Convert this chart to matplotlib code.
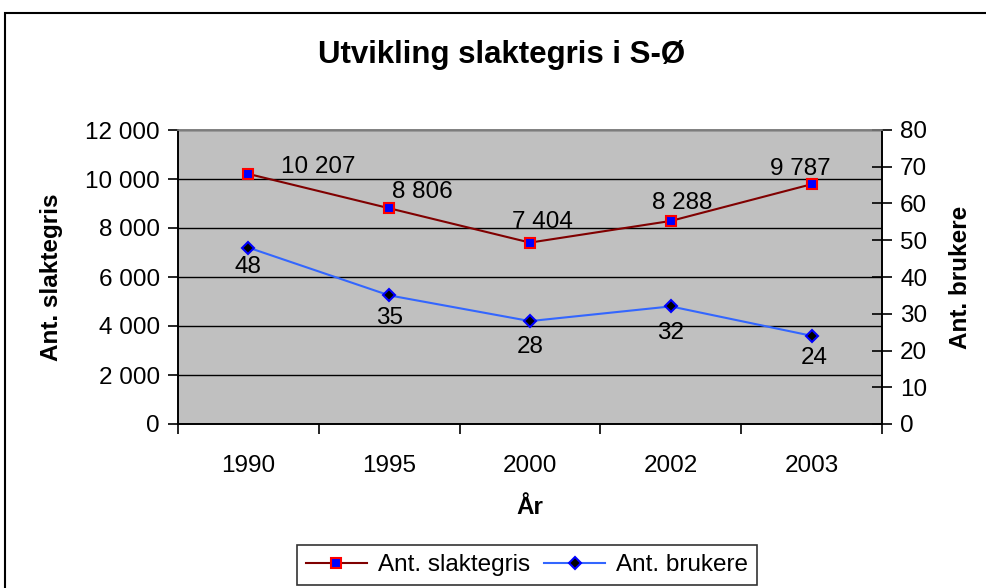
import matplotlib.pyplot as plt
from matplotlib.patches import Rectangle
from matplotlib.ticker import FuncFormatter

plt.rcParams["font.family"] = ["Liberation Sans", "DejaVu Sans"]

years = ["1990", "1995", "2000", "2002", "2003"]
slaktegris = [10207, 8806, 7404, 8288, 9787]
brukere = [48, 35, 28, 32, 24]

# label offsets in points (as placed in the original sheet)
sl_offsets = [(50, 5), (24, 12), (9, 15), (8, 13), (-8, 11)]
br_offsets = [(0, -14), (0, -16), (0, -19), (0, -19), (2, -16)]

FS = 17.5


def space_thousands(v, pos=None):
    return f"{int(round(v)):,}".replace(",", " ")


fig = plt.figure(figsize=(9.87, 5.88), dpi=100)
fig.add_artist(Rectangle((5 / 987, -0.05), 1.1, 1 - 13 / 588 + 0.05,
                         transform=fig.transFigure, fill=False,
                         edgecolor="black", linewidth=1.5))

ax = fig.add_axes([178 / 987, 1 - 424 / 588, 704 / 987, 294 / 588])
ax2 = ax.twinx()
ax.set_facecolor("#C0C0C0")

x = range(len(years))
l1, = ax.plot(x, slaktegris, color="#800000", linewidth=1.5, marker="s",
              markersize=7, markerfacecolor="#0000FF",
              markeredgecolor="#FF0000", markeredgewidth=1.5,
              label="Ant. slaktegris", zorder=4)
l2, = ax2.plot(x, brukere, color="#3366FF", linewidth=1.5, marker="D",
               markersize=6, markerfacecolor="black",
               markeredgecolor="#0000FF", markeredgewidth=1.5,
               label="Ant. brukere", zorder=4)

for i, v in enumerate(slaktegris):
    ax.annotate(space_thousands(v), (i, v), xytext=sl_offsets[i],
                textcoords="offset points", ha="center", va="center",
                fontsize=FS)
for i, v in enumerate(brukere):
    ax2.annotate(str(v), (i, v), xytext=br_offsets[i],
                 textcoords="offset points", ha="center", va="center",
                 fontsize=FS)

ax.set_xlim(-0.5, len(years) - 0.5)
ax.set_ylim(0, 12000)
ax2.set_ylim(0, 80)
ax.set_yticks(range(0, 12001, 2000))
ax2.set_yticks(range(0, 81, 10))
ax.yaxis.set_major_formatter(FuncFormatter(space_thousands))
ax.yaxis.grid(True, color="black", linewidth=1)
ax.set_axisbelow(True)

ax.set_xticks([i - 0.5 for i in range(len(years) + 1)])
ax.set_xticklabels([])
ax.set_xticks(list(x), minor=True)
ax.set_xticklabels(years, minor=True)
ax.tick_params(axis="x", which="minor", length=0, labelsize=FS, pad=22)
ax.tick_params(axis="x", which="major", length=7, width=1.2)
ax.tick_params(axis="y", length=7, width=1.2, labelsize=FS, pad=6)
ax2.tick_params(axis="y", direction="inout", length=14, width=1.2,
                labelsize=FS, pad=6)

for a in (ax, ax2):
    for s in a.spines.values():
        s.set_linewidth(1.2)
ax.spines["top"].set_color("#808080")
ax2.spines["top"].set_color("#808080")

ax.set_xlabel("År", fontsize=FS, fontweight="bold", labelpad=14)
ax.set_ylabel("Ant. slaktegris", fontsize=FS, fontweight="bold", labelpad=16)
ax2.set_ylabel("Ant. brukere", fontsize=FS, fontweight="bold", labelpad=16)

fig.text(0.508, 1 - 55 / 588, "Utvikling slaktegris i S-Ø", ha="center",
         va="center", fontsize=22.5, fontweight="bold")

leg = fig.legend(handles=[l1, l2], loc="center", ncol=2,
                 bbox_to_anchor=(527 / 987, 1 - 565 / 588), fontsize=FS,
                 frameon=True, fancybox=False, edgecolor="black",
                 handlelength=2.5, columnspacing=0.6, handletextpad=0.45,
                 borderpad=0.35, borderaxespad=0)
leg.get_frame().set_linewidth(1.2)

fig.savefig("out.png", dpi=100)
